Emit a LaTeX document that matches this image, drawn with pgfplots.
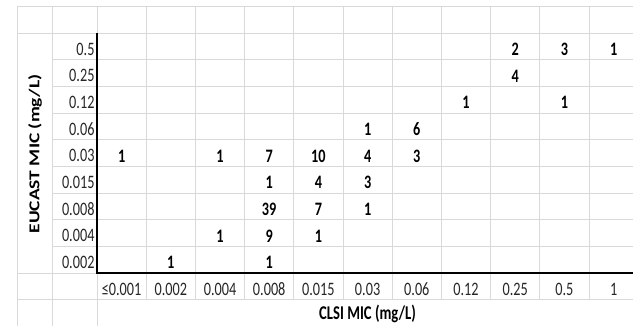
\documentclass[border=0pt]{standalone}
\usepackage{fontspec}
\setmainfont{Carlito}[FakeStretch=0.75]
\newfontfamily\plainf{Carlito}
\usepackage{pgfplots}
\usepackage{pgfplotstable}
\pgfplotsset{compat=1.18}
\definecolor{gridc}{HTML}{D9D9D9}
\pgfplotstableread{
x y v
8 8 2
9 8 3
10 8 1
8 7 4
7 6 1
9 6 1
5 5 1
6 5 6
0 4 1
2 4 1
3 4 7
4 4 10
5 4 4
6 4 3
3 3 1
4 3 4
5 3 3
3 2 39
4 2 7
5 2 1
2 1 1
3 1 9
4 1 1
1 0 1
3 0 1
}\counts
\begin{document}
\begin{tikzpicture}
\begin{axis}[
 scale only axis, width=536pt, height=240pt,
 xmin=-0.5, xmax=10.394, ymin=-0.5, ymax=8.5,
 clip=false,
 axis line style={draw=none},
 major tick length=0pt,
 xtick={0,...,10},
 xticklabels={≤0.001,0.002,0.004,0.008,0.015,0.03,0.06,0.12,0.25,0.5,1},
 ytick={0,...,8},
 yticklabels={0.002,0.004,0.008,0.015,0.03,0.06,0.12,0.25,0.5},
 tick label style={font=\fontsize{19}{21}\selectfont, text=black!85},
 xticklabel style={anchor=center, yshift=-16.3pt},
 yticklabel style={anchor=east, yshift=-2.8pt, xshift=1pt},
 xlabel={CLSI MIC (mg/L)},
 ylabel={\scalebox{0.77}[1]{\rotatebox{90}{\plainf\bfseries\fontsize{19.5}{21}\selectfont EUCAST MIC (mg/L)}}},
 xlabel style={at={(axis description cs:0.5047,-0.1708)}, anchor=center, font=\bfseries\fontsize{19.5}{21}\selectfont},
 ylabel style={at={(axis description cs:-0.1157,0.4958)}, anchor=center, rotate=-90},
]
% grid of the sheet
\pgfplotsinvokeforeach{0.5,1.5,...,9.5}{\draw[gridc, line width=0.8pt] (axis cs:#1,9.5) -- (axis cs:#1,-1.5);}
\pgfplotsinvokeforeach{0.5,1.5,...,7.5}{\draw[gridc, line width=0.8pt] (axis cs:-1.415,#1) -- (axis cs:10.394,#1);}
\draw[gridc, line width=0.8pt] (axis cs:-2.126,9.5) -- (axis cs:10.394,9.5);
\draw[gridc, line width=0.8pt] (axis cs:-2.126,8.5) -- (axis cs:10.394,8.5);
\draw[gridc, line width=0.8pt] (axis cs:-2.126,-0.5) -- (axis cs:-0.5,-0.5);
\draw[gridc, line width=0.8pt] (axis cs:-2.126,-1.5) -- (axis cs:10.394,-1.5);
\draw[gridc, line width=0.8pt] (axis cs:-2.126,9.5) -- (axis cs:-2.126,-2.49);
\draw[gridc, line width=0.8pt] (axis cs:-1.415,9.5) -- (axis cs:-1.415,-2.49);
\draw[gridc, line width=0.8pt] (axis cs:-0.5,9.5) -- (axis cs:-0.5,8.5);
\draw[gridc, line width=0.8pt] (axis cs:-0.5,-0.5) -- (axis cs:-0.5,-2.49);
\draw[black, line width=1.3pt] (axis cs:-0.5,8.5) -- (axis cs:-0.5,-0.5) -- (axis cs:10.394,-0.5);
\addplot[only marks, mark=none, nodes near coords, point meta=explicit symbolic,
  every node near coord/.style={font=\bfseries\fontsize{19}{21}\selectfont, anchor=center, yshift=-3pt, text=black}]
  table[x=x, y=y, meta=v] {\counts};
\coordinate (BBsw) at (axis cs:-2.472,-2.49);
\coordinate (BBne) at (axis cs:10.394,9.74);
\end{axis}
\pgfresetboundingbox
\path[use as bounding box] (BBsw) rectangle (BBne);
\end{tikzpicture}
\end{document}
